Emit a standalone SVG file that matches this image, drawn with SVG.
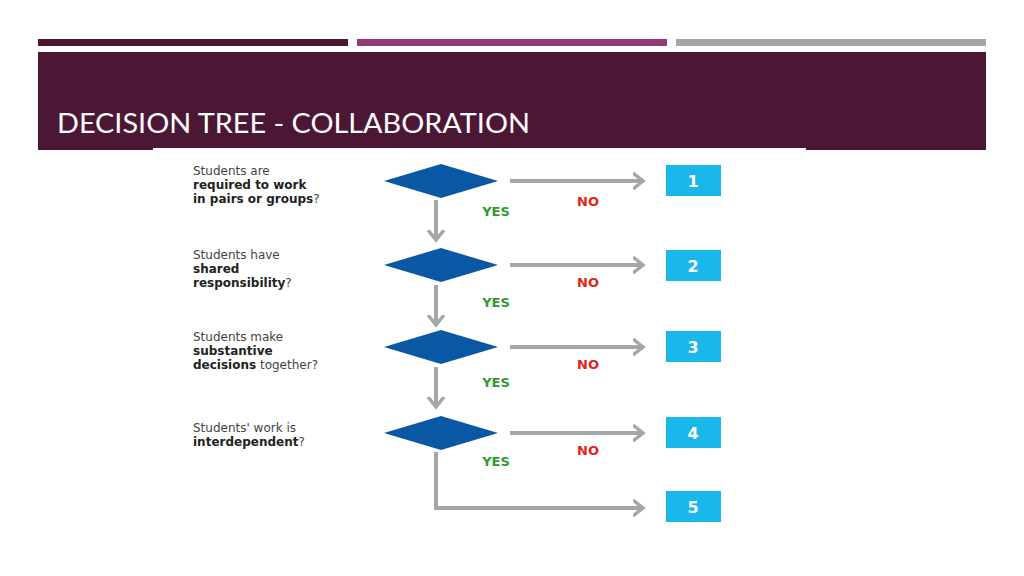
<svg xmlns="http://www.w3.org/2000/svg" width="1024" height="576" viewBox="0 0 1024 576">
<style>
.q{font-family:"DejaVu Sans","Liberation Sans",sans-serif;font-size:12px;fill:#444}
.b{font-weight:bold;fill:#222}
.no{font-family:"DejaVu Sans","Liberation Sans",sans-serif;font-size:13px;font-weight:bold;fill:#e2231a;text-anchor:middle}
.yes{font-family:"DejaVu Sans","Liberation Sans",sans-serif;font-size:13px;font-weight:bold;fill:#2e9a2e;text-anchor:middle}
.d{fill:#0a57a4}
.bx{fill:#1ab7ea}
.n{font-family:"DejaVu Sans","Liberation Sans",sans-serif;font-size:16px;font-weight:bold;fill:#fff;text-anchor:middle}
.c{stroke:#a6a6a6;stroke-width:4;fill:none}
</style>
<defs>
<marker id="ah" markerWidth="20" markerHeight="20" refX="10" refY="10" orient="auto" markerUnits="userSpaceOnUse" viewBox="0 0 20 20">
<path d="M0,2 L10,10 L0,18" fill="none" stroke="#a6a6a6" stroke-width="3.5"/>
</marker>
</defs>
<rect width="1024" height="576" fill="#fff"/>
<rect x="38" y="39" width="310" height="7" fill="#4c1735"/>
<rect x="357" y="39" width="310" height="7" fill="#933a74"/>
<rect x="676" y="39" width="310" height="7" fill="#a5a5a5"/>
<rect x="38" y="52" width="948" height="98" fill="#4c1735"/>
<text x="57" y="133" font-family="Lato,'Liberation Sans',sans-serif" font-size="26" fill="#fff" textLength="473" lengthAdjust="spacingAndGlyphs">DECISION TREE - COLLABORATION</text>
<rect x="153" y="148" width="653" height="390" fill="#fff"/>
<g id="connectors">
<path class="c" d="M510,181 H643" marker-end="url(#ah)"/>
<path class="c" d="M510,265 H643" marker-end="url(#ah)"/>
<path class="c" d="M510,347 H643" marker-end="url(#ah)"/>
<path class="c" d="M510,433 H643" marker-end="url(#ah)"/>
<path class="c" d="M436,200 V240" marker-end="url(#ah)"/>
<path class="c" d="M436,285 V325" marker-end="url(#ah)"/>
<path class="c" d="M436,367 V407" marker-end="url(#ah)"/>
<path class="c" d="M436,452 V508 H643" marker-end="url(#ah)"/>
<text class="no" x="588" y="206">NO</text>
<text class="no" x="588" y="287">NO</text>
<text class="no" x="588" y="369">NO</text>
<text class="no" x="588" y="455">NO</text>
<text class="yes" x="496" y="216">YES</text>
<text class="yes" x="496" y="307">YES</text>
<text class="yes" x="496" y="387">YES</text>
<text class="yes" x="496" y="466">YES</text>
</g>
<g id="q1"><path class="d" d="M384,181 L441,164 L498,181 L441,198Z"/>
<text class="q" x="193" y="175">Students are</text>
<text class="q b" x="193" y="189">required to work</text>
<text class="q" x="193" y="203"><tspan class="b">in pairs or groups</tspan>?</text></g>
<g id="q2"><path class="d" d="M384,265 L441,248 L498,265 L441,282Z"/>
<text class="q" x="193" y="259">Students have</text>
<text class="q b" x="193" y="273">shared</text>
<text class="q" x="193" y="287"><tspan class="b">responsibility</tspan>?</text></g>
<g id="q3"><path class="d" d="M384,347 L441,330 L498,347 L441,364Z"/>
<text class="q" x="193" y="341">Students make</text>
<text class="q b" x="193" y="355">substantive</text>
<text class="q" x="193" y="369"><tspan class="b">decisions</tspan> together?</text></g>
<g id="q4"><path class="d" d="M384,433 L441,416 L498,433 L441,450Z"/>
<text class="q" x="193" y="432">Students' work is</text>
<text class="q" x="193" y="446"><tspan class="b">interdependent</tspan>?</text></g>
<g id="r1"><rect class="bx" x="666" y="165" width="55" height="31"/><text class="n" x="693" y="187">1</text></g>
<g id="r2"><rect class="bx" x="666" y="250" width="55" height="31"/><text class="n" x="693" y="272">2</text></g>
<g id="r3"><rect class="bx" x="666" y="331" width="55" height="31"/><text class="n" x="693" y="353">3</text></g>
<g id="r4"><rect class="bx" x="666" y="417" width="55" height="31"/><text class="n" x="693" y="439">4</text></g>
<g id="r5"><rect class="bx" x="666" y="491" width="55" height="31"/><text class="n" x="693" y="513">5</text></g>
</svg>
